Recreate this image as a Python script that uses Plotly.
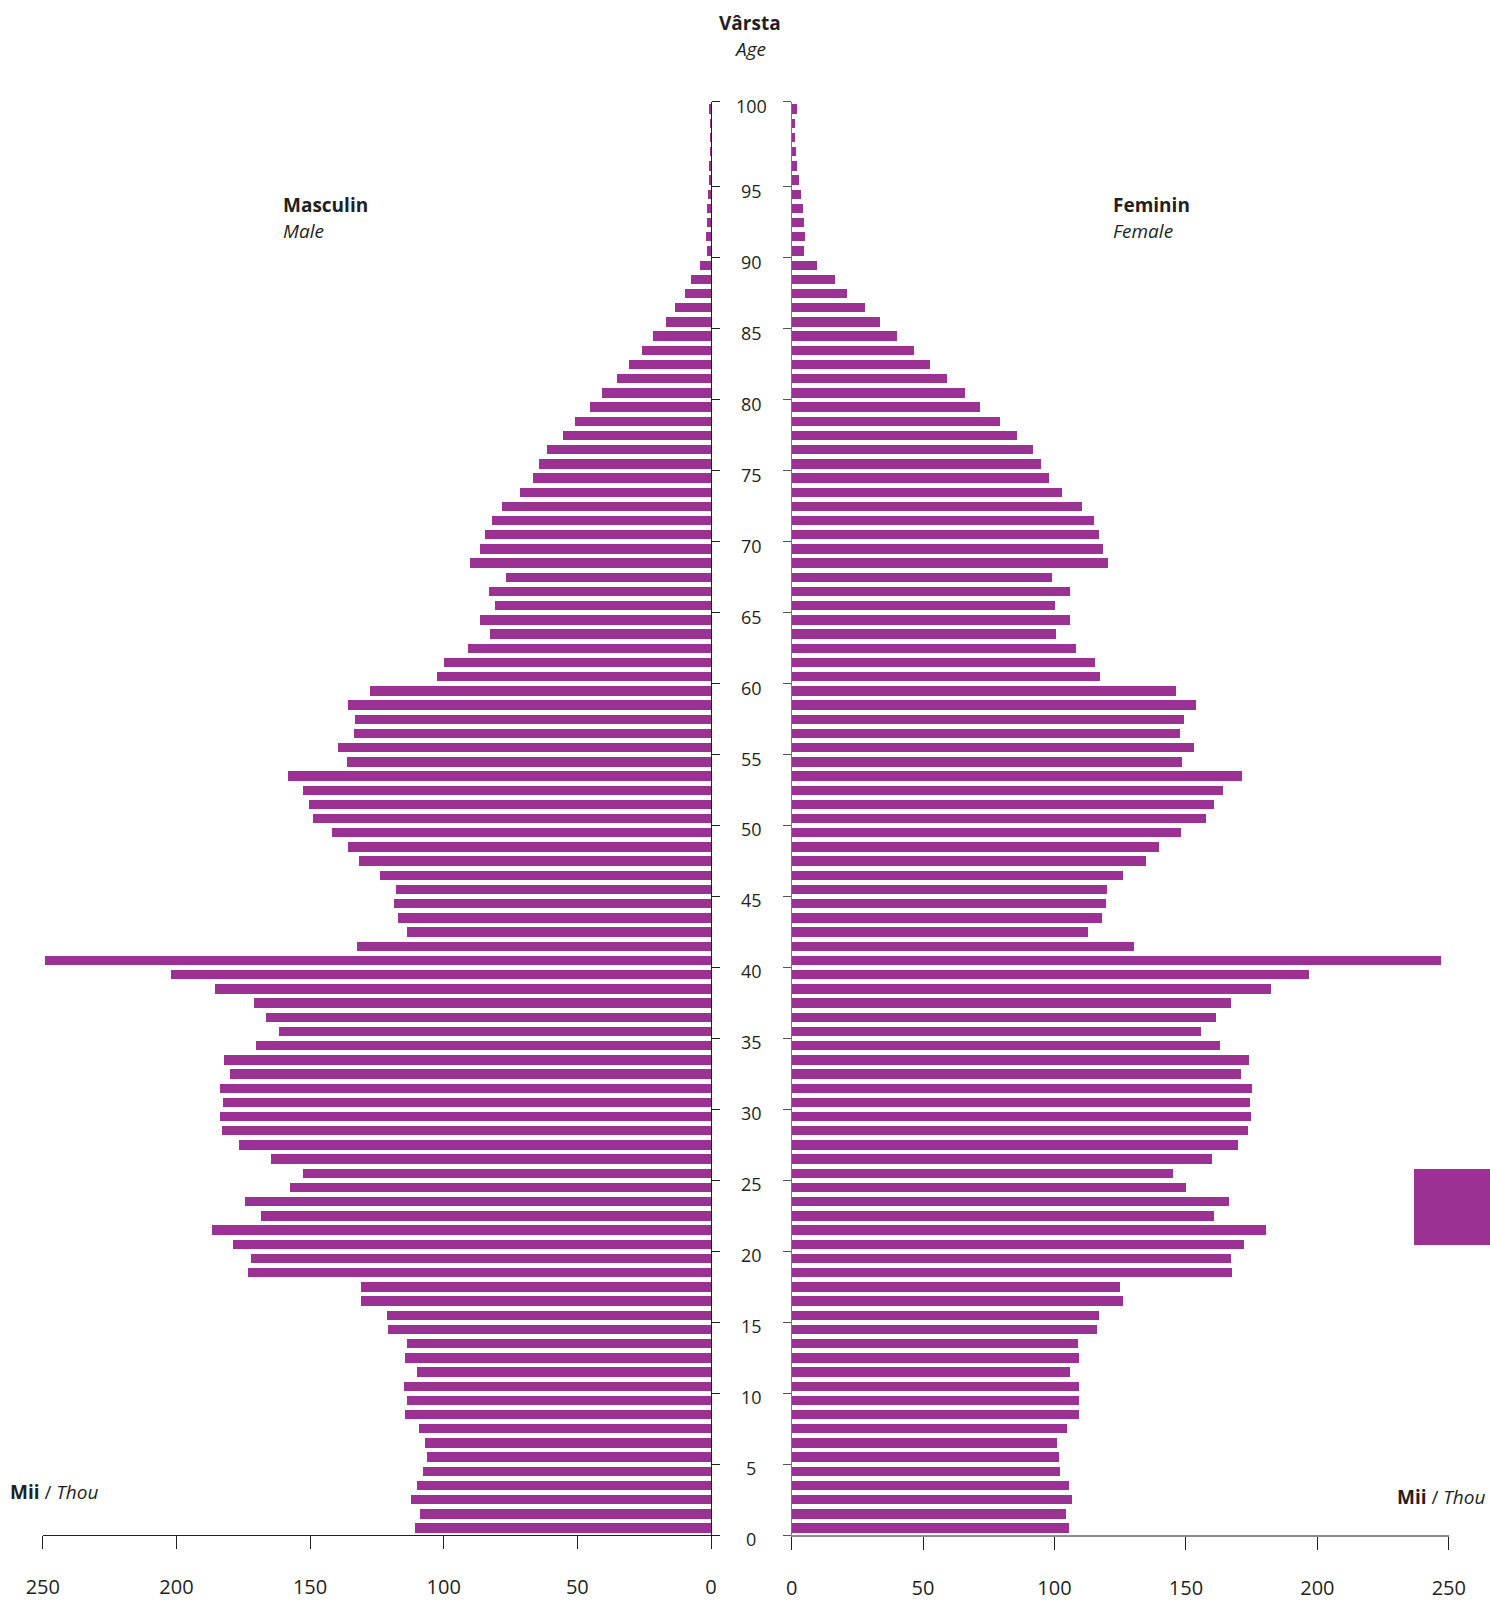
import plotly.graph_objects as go

# ---------------- data (thousands of persons, by single year of age) ----------------
ages = list(range(0, 101))  # 100 = "100+"

male = [
    110.8, 109.0, 112.2, 110.2, 107.9, 106.2, 107.2, 109.5, 114.5, 113.8,
    114.9, 110.1, 114.7, 113.8, 121.1, 121.3, 131.2, 130.9, 173.4, 172.1,
    178.9, 186.7, 168.4, 174.3, 157.7, 152.6, 164.7, 176.6, 183.0, 183.7,
    182.8, 183.9, 180.1, 182.1, 170.2, 161.8, 166.4, 170.9, 185.5, 202.0,
    249.1, 132.5, 113.8, 117.2, 118.8, 117.9, 123.8, 131.6, 135.8, 141.9,
    149.0, 150.6, 152.7, 158.4, 136.2, 139.6, 133.7, 133.4, 135.8, 127.7,
    102.6, 99.8, 91.0, 82.9, 86.4, 80.9, 83.2, 76.6, 90.3, 86.4,
    84.5, 82.0, 78.2, 71.5, 66.7, 64.5, 61.5, 55.3, 50.9, 45.2,
    40.9, 35.4, 30.8, 26.0, 21.7, 16.9, 13.7, 9.8, 7.5, 4.3,
    1.7, 1.8, 1.6, 1.6, 1.3, 1.0, 0.8, 0.6, 0.6, 0.6,
    0.7,
]

female = [
    105.5, 104.1, 106.4, 105.2, 102.1, 101.5, 100.8, 104.6, 109.0, 109.3,
    109.2, 105.7, 109.3, 108.8, 116.0, 116.8, 125.8, 124.9, 167.4, 167.0,
    171.8, 180.4, 160.7, 166.3, 149.7, 145.0, 159.8, 169.6, 173.4, 174.5,
    174.3, 174.8, 170.9, 173.9, 162.9, 155.6, 161.4, 166.9, 182.1, 196.7,
    247.0, 130.0, 112.6, 117.8, 119.3, 119.8, 126.0, 134.7, 139.7, 148.0,
    157.5, 160.4, 163.8, 171.2, 148.4, 152.9, 147.5, 149.3, 153.8, 145.9,
    117.1, 115.1, 107.9, 100.5, 105.9, 99.9, 105.9, 98.8, 120.2, 118.2,
    116.6, 114.9, 110.4, 102.8, 97.8, 94.9, 91.8, 85.4, 79.3, 71.7,
    65.7, 59.0, 52.5, 46.4, 39.8, 33.3, 27.9, 21.1, 16.2, 9.5,
    4.4, 4.8, 4.4, 4.0, 3.3, 2.8, 1.9, 1.5, 1.1, 1.0,
    1.9,
]

age_tick_labels = [0, 5, 10, 15, 20, 25, 30, 35, 40, 45, 50, 55, 60, 65, 70, 75, 80, 85, 90, 95, 100]
value_ticks = [0, 50, 100, 150, 200, 250]

# ---------------- styling ----------------
W, H = 1490, 1601
PURPLE = "#9b3192"
INK = "#231f20"
FONT = "Open Sans"

def px_x(x):
    return x / W

def px_y(y):
    return (H - y) / H

# bars occupy the band [age, age+1]; the "100" tick marks the top of the 100+ band
bar_pos = [a + 0.5 for a in ages]
tick_pos = [v if v < 100 else v + 1 for v in age_tick_labels]
Y_MAX = 101

fig = go.Figure()
fig.add_trace(go.Bar(
    y=bar_pos, x=male, orientation="h", xaxis="x", yaxis="y",
    width=0.66, marker=dict(color=PURPLE, line=dict(width=0)),
    showlegend=False, hoverinfo="x+y",
))
fig.add_trace(go.Bar(
    y=bar_pos, x=female, orientation="h", xaxis="x2", yaxis="y2",
    width=0.66, marker=dict(color=PURPLE, line=dict(width=0)),
    showlegend=False, hoverinfo="x+y",
))

y_dom = [px_y(1535), px_y(1535 - Y_MAX * 14.19)]

common_x = dict(
    tickvals=value_ticks, ticktext=[str(v) for v in value_ticks],
    ticks="outside", ticklen=13, tickwidth=1, tickcolor=INK,
    showline=True, showgrid=False, zeroline=False, automargin=False,
    tickfont=dict(family=FONT, size=20, color=INK),
    ticklabelstandoff=21, fixedrange=True,
)
common_y = dict(
    domain=y_dom, range=[0, Y_MAX], tickvals=tick_pos, showticklabels=False,
    ticks="outside", ticklen=8, tickwidth=1,
    showline=True, showgrid=False, zeroline=False, automargin=False,
    fixedrange=True,
)

fig.update_layout(
    template="none",
    width=W, height=H, autosize=False,
    margin=dict(l=0, r=0, t=0, b=0, pad=0, autoexpand=False),
    paper_bgcolor="white", plot_bgcolor="white",
    bargap=0, barmode="overlay", showlegend=False,
    font=dict(family=FONT, color=INK),
    xaxis=dict(domain=[px_x(42.8), px_x(711.0)], range=[250, 0], anchor="y",
               linecolor=INK, linewidth=1.2, **common_x),
    xaxis2=dict(domain=[px_x(791.6), px_x(1448.8)], range=[0, 250], anchor="y2",
                linecolor="#8c8c8c", linewidth=2, **common_x),
    yaxis=dict(anchor="x", side="right", tickcolor=INK,
               linecolor=INK, linewidth=1, **common_y),
    yaxis2=dict(anchor="x2", side="left", tickcolor="#555555",
                linecolor="#777777", linewidth=1, **common_y),
)

# age labels centred between the two panels
for lab, pos in zip(age_tick_labels, tick_pos):
    fig.add_annotation(
        x=px_x(751), xref="paper", y=pos, yref="y",
        text=str(lab), showarrow=False, xanchor="center", yanchor="middle",
        yshift=-4, font=dict(family=FONT, size=18, color=INK),
    )

def label(text, x, y, xanchor="left", size=19):
    fig.add_annotation(
        x=px_x(x), y=px_y(y), xref="paper", yref="paper", text=text,
        showarrow=False, xanchor=xanchor, yanchor="middle",
        font=dict(family=FONT, size=size, color=INK),
    )

label("<b>Vârsta</b>", 750, 23.5, "center")
label("<i>Age</i>", 750, 49, "center")
label("<b>Masculin</b>", 281, 205)
label("<i>Male</i>", 281, 231)
label("<b>Feminin</b>", 1111, 205)
label("<i>Female</i>", 1111, 231)
label("<b>Mii</b> / <i>Thou</i>", 8, 1492)
label("<b>Mii</b> / <i>Thou</i>", 1487, 1497, "right")

# purple block at the right edge
fig.add_shape(type="rect", xref="paper", yref="paper",
              x0=px_x(1414), x1=1.0, y0=px_y(1245), y1=px_y(1169),
              fillcolor=PURPLE, line=dict(width=0), layer="above")

# remove the browser's default page margin so the figure fills the window exactly
page_css = ("document.body.style.margin='0';document.body.style.padding='0';"
            "document.documentElement.style.overflow='hidden';")
fig.write_html("out.html", post_script=page_css, config={"displayModeBar": False})
